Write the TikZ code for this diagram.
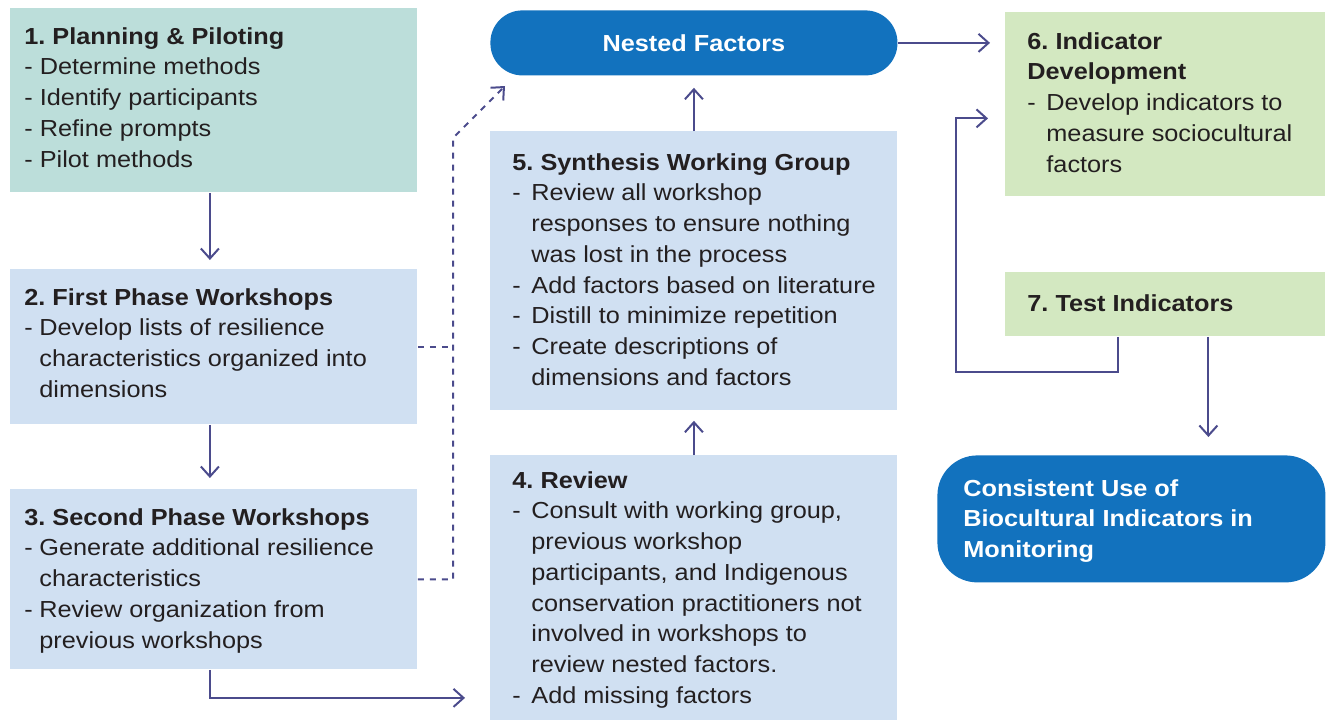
\documentclass[tikz,border=0pt]{standalone}
\usepackage{fontspec}
\setmainfont{Liberation Sans}[FakeStretch=1.09]
\frenchspacing
\usepackage{tikz}
\usetikzlibrary{positioning, arrows.meta, calc}

\definecolor{tealbox}{HTML}{BCDEDA}
\definecolor{bluebox}{HTML}{D0E0F2}
\definecolor{greenbox}{HTML}{D3E8C1}
\definecolor{darkblue}{HTML}{1272BE}
\definecolor{linkc}{HTML}{4B4B8C}
\definecolor{txt}{HTML}{231F20}

\newcommand\dashA{\makebox[7.5pt][l]{-}}
\newcommand\contA{\hspace*{7.5pt}}
\newcommand\dashB{\makebox[9.5pt][l]{-}}
\newcommand\contB{\hspace*{9.5pt}}

\tikzset{
	stage/.style={anchor=north west, inner sep=0, draw=none},
	stagetext/.style={anchor=north west, inner sep=0, align=left, text=txt,
		font=\fontsize{11.6}{15.35}\selectfont},
	link/.style={draw=linkc, line width=1pt, -{Straight Barb[length=5pt, width=9pt]}},
	dlink/.style={draw=linkc, line width=1pt, dash pattern=on 3pt off 3pt}
}

\begin{document}
\begin{tikzpicture}[x=0.5pt, y=-0.5pt]
			\useasboundingbox (0,0) rectangle (1326,722);
			
			%Blocks
			\node (b1) at (10,8) [stage, fill=tealbox, minimum width=203.5pt, minimum height=92pt] {};
			\node (b2) at (10,269) [stage, fill=bluebox, minimum width=203.5pt, minimum height=77.5pt] {};
			\node (b3) at (10,489) [stage, fill=bluebox, minimum width=203.5pt, minimum height=90pt] {};
			\node (b5) at (490,131) [stage, fill=bluebox, minimum width=203.5pt, minimum height=139.5pt] {};
			\node (b4) at (490,455) [stage, fill=bluebox, minimum width=203.5pt, minimum height=132.5pt] {};
			\node (nf) at (490,10) [stage, fill=darkblue, rounded corners=16pt, minimum width=203.5pt, 
			minimum height=32.5pt] {};
			\node (b6) at (1005,12) [stage, fill=greenbox, minimum width=160pt, minimum height=92pt] {};
			\node (b7) at (1005,272) [stage, fill=greenbox, minimum width=160pt, minimum height=32pt] {};
			\node (cons) at (937,455) [stage, fill=darkblue, rounded corners=20pt, minimum width=194pt, 
			minimum height=63.5pt] {};
			
			%Texts
			\node (t1) at ($(b1.north west)+(14,19)$) [stagetext] {\textbf{1. Planning \& Piloting}\\
				- Determine methods\\- Identify participants\\- Refine prompts\\- Pilot methods};
			\node (t2) at ($(b2.north west)+(14,19)$) [stagetext] {\textbf{2. First Phase Workshops}\\
				\dashA Develop lists of resilience\\\contA characteristics organized into\\\contA dimensions};
			\node (t3) at ($(b3.north west)+(14,19)$) [stagetext] {\textbf{3. Second Phase Workshops}\\
				\dashA Generate additional resilience\\\contA characteristics\\
				\dashA Review organization from\\\contA previous workshops};
			\node (t5) at ($(b5.north west)+(22,22)$) [stagetext] {\textbf{5. Synthesis Working Group}\\
				\dashB Review all workshop\\\contB responses to ensure nothing\\\contB was lost in the process\\
				\dashB Add factors based on literature\\\dashB Distill to minimize repetition\\
				\dashB Create descriptions of\\\contB dimensions and factors};
			\node (t4) at ($(b4.north west)+(22,16)$) [stagetext] {\textbf{4. Review}\\
				\dashB Consult with working group,\\\contB previous workshop\\\contB participants, and Indigenous\\
				\contB conservation practitioners not\\\contB involved in workshops to\\
				\contB review nested factors.\\\dashB Add missing factors};
			\node (t6) at ($(b6.north west)+(22,20)$) [stagetext] {\textbf{6. Indicator}\\\textbf{Development}\\
				\dashB Develop indicators to\\\contB measure sociocultural\\\contB factors};
			\node (t7) at ($(b7.north west)+(22,22)$) [stagetext] {\textbf{7. Test Indicators}};
			\node (tc) at ($(cons.north west)+(26,24)$) [stagetext, text=white] {\textbf{Consistent Use of}\\
				\textbf{Biocultural Indicators in}\\\textbf{Monitoring}};
			\node (tn) at (nf.center) [text=white, font=\fontsize{11.6}{15.35}\selectfont\bfseries] {Nested Factors};
			
			%Links
			\draw[link, shorten >=4.5pt] ([xshift=-2pt]b1.south) -- ([xshift=-2pt]b2.north);
			\draw[link, shorten >=5.5pt] ([xshift=-2pt]b2.south) -- ([xshift=-2pt]b3.north);
			\draw[link] ([xshift=-2pt]b3.south) |- ($(b4.west)+(-25,110)$);
			\draw[link, shorten >=5pt] (b4.north) -- (b5.south);
			\draw[link, shorten >=6pt] (b5.north) -- (nf.south);
			\draw[link, shorten >=7.5pt] (nf.east) -- (nf.east -| b6.west);
			\coordinate (loop) at (956,372);
			\draw[link] ($(b7.south)+(-47,0)$) |- (loop) |- ($(b6.west)+(-17,14)$);
			\coordinate (c7) at ($(b7.south)+(43,0)$);
			\draw[link, shorten >=9pt] (c7) -- (c7 |- cons.north);
			
			%Dashed link
			\coordinate (bend) at (453,138);
			\coordinate (tip) at (505,86);
			\draw[dlink] (b2.east) -- (b2.east -| bend);
			\draw[dlink, -{Straight Barb[length=5pt, width=9pt]}] (b3.east) -| (bend) -- (tip);
			
\end{tikzpicture}
\end{document}
